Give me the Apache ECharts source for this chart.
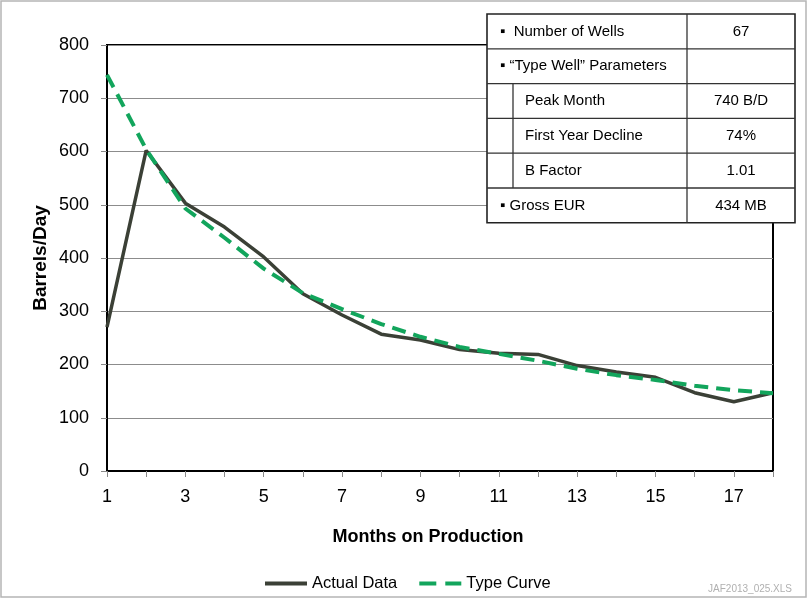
<!DOCTYPE html>
<html>
<head>
<meta charset="utf-8">
<script src="https://cdn.jsdelivr.net/npm/echarts@6/dist/echarts.min.js"></script>
<style>
html,body{margin:0;padding:0;background:#fff;}
#chart{width:808px;height:602px;}
</style>
</head>
<body>
<div id="chart"></div>
<script>
// ---- data ----
var months = ['1','2','3','4','5','6','7','8','9','10','11','12','13','14','15','16','17','18'];
var actualData = [270, 602, 503, 458, 402, 333, 293, 257, 246, 228, 221, 219, 198, 186, 176, 147, 130, 147];
var typeCurve = [744, 604, 493, 438, 380, 334, 304, 276, 252, 233, 220, 207, 192, 180, 171, 160, 152, 146];
var seriesNames = ['Actual Data', 'Type Curve'];
var xAxisTitle = 'Months on Production';
var yAxisTitle = 'Barrels/Day';
var tableLabels = ['\u25AA  Number of Wells', '\u25AA \u201CType Well\u201D Parameters', 'Peak Month', 'First Year Decline', 'B Factor', '\u25AA Gross EUR'];
var tableValues = ['67', '', '740 B/D', '74%', '1.01', '434 MB'];
var tableIndented = [false, false, true, true, true, false];
var footnote = 'JAF2013_025.XLS';

var FONT = '"Liberation Sans", Arial, sans-serif';

// ---- table graphic ----
var tX = 487, tY = 14, tW = 308, rowH = 34.8, colX = 687, indentX = 513;
var g = [];
g.push({type:'rect', shape:{x:1, y:1, width:805, height:596}, style:{fill:null, stroke:'#b5b5b5', lineWidth:1.5}, z:1, silent:true});
g.push({type:'rect', shape:{x:tX, y:tY, width:tW, height:rowH*tableLabels.length},
  style:{fill:'#fff', stroke:'#222', lineWidth:1.6}, z:100});
for (var i = 1; i < tableLabels.length; i++) {
  g.push({type:'line', shape:{x1:tX, y1:tY+rowH*i, x2:tX+tW, y2:tY+rowH*i}, style:{stroke:'#333', lineWidth:1.3}, z:101});
}
g.push({type:'line', shape:{x1:colX, y1:tY, x2:colX, y2:tY+rowH*tableLabels.length}, style:{stroke:'#333', lineWidth:1.3}, z:101});
var firstInd = tableIndented.indexOf(true), lastInd = tableIndented.lastIndexOf(true);
g.push({type:'line', shape:{x1:indentX, y1:tY+rowH*firstInd, x2:indentX, y2:tY+rowH*(lastInd+1)}, style:{stroke:'#333', lineWidth:1.3}, z:101});
for (var j = 0; j < tableLabels.length; j++) {
  var cy = tY + rowH*j + rowH/2;
  g.push({type:'text', x: tableIndented[j] ? 525 : 500, y: cy, z:102,
    style:{text: tableLabels[j], fill:'#000', font: '15px ' + FONT, textAlign:'left', textVerticalAlign:'middle'}});
  g.push({type:'text', x: (colX + tX + tW)/2, y: cy, z:102,
    style:{text: tableValues[j], fill:'#000', font: '15px ' + FONT, textAlign:'center', textVerticalAlign:'middle'}});
}
g.push({type:'text', x: 792, y: 589, z:102,
  style:{text: footnote, fill:'#b0b0b0', font: '10px ' + FONT, textAlign:'right', textVerticalAlign:'middle'}});

var chart = echarts.init(document.getElementById('chart'), null, {renderer:'canvas'});
chart.setOption({
  animation: false,
  backgroundColor: '#fff',
  textStyle: {fontFamily: FONT},
  grid: {left:107, right:35, top:45, bottom:131, show:true, borderColor:'#000', borderWidth:2, backgroundColor:'transparent'},
  legend: {
    data: [
      {name: seriesNames[0], icon: 'rect'},
      {name: seriesNames[1], icon: 'path://M0,0h17v4h-17z M26,0h16v4h-16z'}
    ],
    left: 260, top: 570, itemWidth: 42, itemHeight: 4, itemGap: 22,
    textStyle: {fontSize: 16.5, color: '#000', fontFamily: FONT}
  },
  xAxis: {
    type: 'category', data: months, boundaryGap: false,
    name: xAxisTitle, nameLocation: 'middle', nameGap: 57,
    nameTextStyle: {fontSize: 18, fontWeight: 'bold', color: '#000', fontFamily: FONT, padding: [0, 24, 0, 0]},
    axisLine: {lineStyle: {color: '#000', width: 2}},
    axisTick: {show: true, interval: 0, length: 6, lineStyle: {color: '#888'}},
    axisLabel: {interval: 1, fontSize: 18, color: '#000', margin: 17, fontFamily: FONT},
    splitLine: {show: false}
  },
  yAxis: {
    type: 'value', min: 0, max: 800, interval: 100,
    name: yAxisTitle, nameLocation: 'middle', nameGap: 57, nameRotate: 90, nameMoveOverlap: false,
    nameTextStyle: {fontSize: 19, fontWeight: 'bold', color: '#000', fontFamily: FONT},
    axisLine: {show: true, lineStyle: {color: '#000', width: 2}},
    axisTick: {show: true, length: 6, lineStyle: {color: '#888'}},
    axisLabel: {fontSize: 18, color: '#000', margin: 18, fontFamily: FONT},
    splitLine: {show: true, lineStyle: {color: '#8c8c8c', width: 1}}
  },
  series: [
    {name: seriesNames[0], type: 'line', data: actualData, symbol: 'none', z: 3,
     lineStyle: {color: '#3b4036', width: 3.5}, itemStyle: {color: '#3b4036'}},
    {name: seriesNames[1], type: 'line', data: typeCurve, symbol: 'none', z: 4,
     lineStyle: {color: '#12a55c', width: 4, type: [14, 8]}, itemStyle: {color: '#12a55c'}}
  ],
  graphic: g
});
</script>
</body>
</html>
